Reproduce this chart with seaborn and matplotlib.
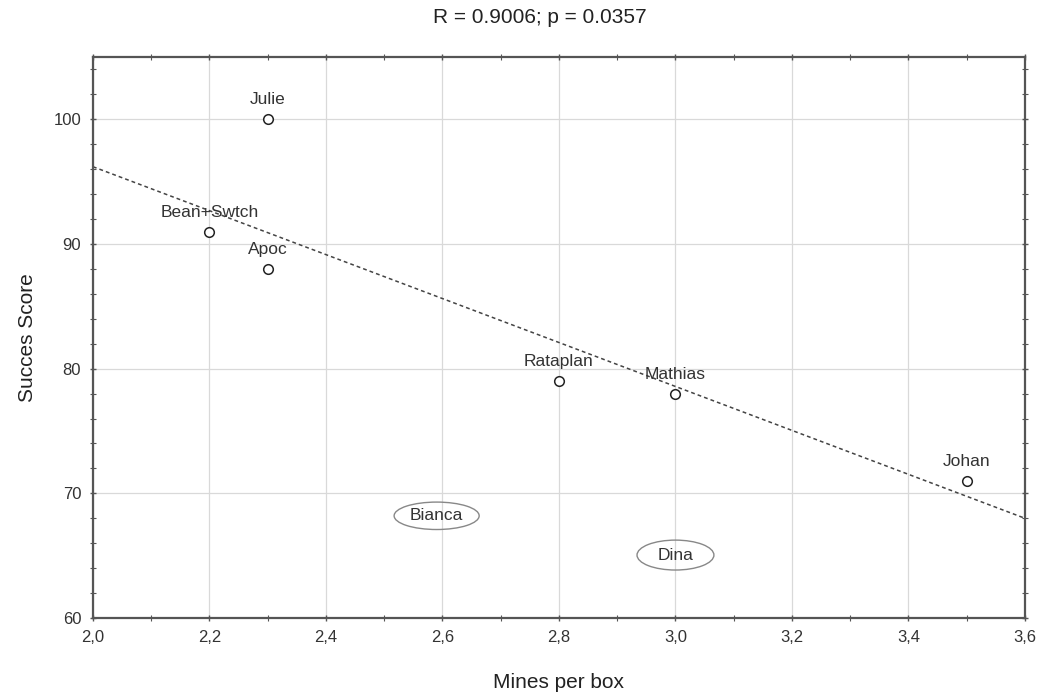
import seaborn as sns
import pandas as pd
import matplotlib.pyplot as plt
from matplotlib.patches import Ellipse
from matplotlib.ticker import MultipleLocator, FuncFormatter

# dogs shown with a marker
names = ["Julie", "Bean+Swtch", "Apoc", "Rataplan", "Mathias", "Johan"]
mines = [2.3, 2.2, 2.3, 2.8, 3.0, 3.5]
score = [100, 91, 88, 79, 78, 71]

# circled ones, no marker
out_names = ["Bianca", "Dina"]
out_mines = [2.59, 3.0]
out_score = [68.2, 65.05]

# fitted line (ends at the axis limits)
fit_x = [2.0, 3.6]
fit_y = [96.2, 68.0]

title = "R = 0.9006; p = 0.0357"


def main():
    df = pd.DataFrame({'Mines per box': mines, 'Succes Score': score, 'name': names})
    fit = pd.DataFrame({'x': fit_x, 'y': fit_y})

    sns.set_theme(style='whitegrid')
    plt.rcParams['font.family'] = ['Liberation Sans', 'DejaVu Sans']

    fig, ax = plt.subplots(figsize=(10.41, 6.92), dpi=100)
    fig.subplots_adjust(left=0.0893, right=0.9846, top=0.9176, bottom=0.1069)

    sns.lineplot(x='x', y='y', data=fit, ax=ax, color='#444444', lw=1.1,
                 ls=(0, (2.5, 2)), zorder=2)
    sns.scatterplot(x='Mines per box', y='Succes Score', data=df, ax=ax,
                    marker='o', s=48, facecolor='white', edgecolor='#222222',
                    linewidth=1.1, zorder=4)

    for n, x, y in zip(names, mines, score):
        ax.annotate(n, (x, y), xytext=(0, 14), textcoords='offset points',
                    ha='center', va='center', fontsize=12.5, color='#333333', zorder=5)

    sizes = [(0.146, 2.2), (0.132, 2.4)]
    for n, x, y, (w, h) in zip(out_names, out_mines, out_score, sizes):
        ax.add_patch(Ellipse((x, y), w, h, fill=False, edgecolor='#888888', lw=1.0, zorder=3))
        ax.text(x, y, n, ha='center', va='center', fontsize=12.5, color='#333333', zorder=5)

    ax.set_xlim(2.0, 3.6)
    ax.set_ylim(60, 105)
    ax.xaxis.set_major_locator(MultipleLocator(0.2))
    ax.xaxis.set_minor_locator(MultipleLocator(0.1))
    ax.yaxis.set_major_locator(MultipleLocator(10))
    ax.yaxis.set_minor_locator(MultipleLocator(2))
    ax.xaxis.set_major_formatter(FuncFormatter(lambda v, p: f"{v:.1f}".replace('.', ',')))
    ax.yaxis.set_major_formatter(FuncFormatter(lambda v, p: f"{v:.0f}"))

    ax.grid(True, which='major', color='#d9d9d9', lw=0.9)
    ax.grid(False, which='minor')
    ax.tick_params(which='both', direction='inout', top=True, right=True,
                   bottom=True, left=True, color='#555555', labelsize=12,
                   labelcolor='#333333')
    ax.tick_params(which='major', length=5, width=1, pad=6)
    ax.tick_params(which='minor', length=4, width=0.8)
    for s in ax.spines.values():
        s.set_visible(True)
        s.set_color('#555555')
        s.set_linewidth(1.6)

    fig.suptitle(title, x=0.519, y=0.975, fontsize=15, color='#222222', va='center')
    ax.set_xlabel('Mines per box', fontsize=15, color='#222222', labelpad=20)
    ax.set_ylabel('Succes Score', fontsize=15, color='#222222', labelpad=12)

    plt.savefig('out.png', dpi=100)


if __name__ == "__main__":
    main()
